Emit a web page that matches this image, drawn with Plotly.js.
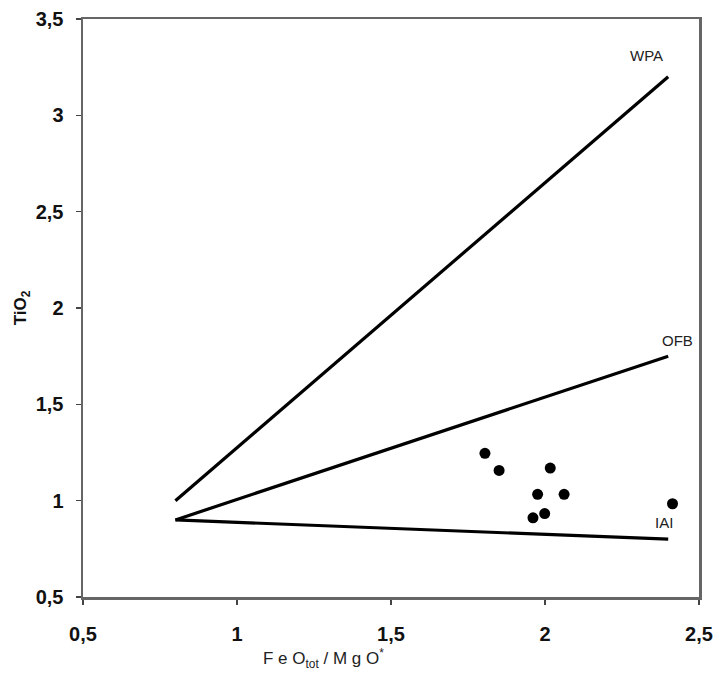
<!DOCTYPE html>
<html>
<head>
<meta charset="utf-8">
<script src="https://cdn.plot.ly/plotly-3.0.1.min.js"></script>
<style>html,body{margin:0;padding:0;background:#fff;}#chart{width:718px;height:679px;}</style>
</head>
<body>
<div id="chart"></div>
<script>
// Sample points: FeOtot/MgO* vs TiO2
const sampleX = [1.805, 1.851, 2.017, 1.976, 2.062, 1.999, 1.961, 2.414];
const sampleY = [1.246, 1.157, 1.169, 1.033, 1.033, 0.933, 0.911, 0.984];

// Discrimination lines
const lineNames = ["WPA", "OFB", "IAI"];
const lineX = [[0.8, 2.4], [0.8, 2.4], [0.8, 2.4]];
const lineY = [[1.0, 3.2], [0.9, 1.75], [0.9, 0.8]];

// Label positions
const labelX = [2.33, 2.43, 2.385];
const labelY = [3.31, 1.83, 0.885];

const xTicks = [0.5, 1, 1.5, 2, 2.5];
const xTickText = ['0,5', '1', '1,5', '2', '2,5'];
const yTicks = [0.5, 1, 1.5, 2, 2.5, 3, 3.5];
const yTickText = ['0,5', '1', '1,5', '2', '2,5', '3', '3,5'];

const FONT = 'Liberation Sans, Arial, sans-serif';

const traces = lineNames.map((n, i) => ({
  x: lineX[i], y: lineY[i], mode: 'lines', name: n,
  line: {color: '#000', width: 3.2}, hoverinfo: 'skip'
}));
traces.push({
  x: sampleX, y: sampleY, mode: 'markers', name: 'samples',
  marker: {color: '#000', size: 11}
});

const annotations = lineNames.map((n, i) => ({
  x: labelX[i], y: labelY[i], text: n, showarrow: false,
  font: {family: FONT, size: 15, color: '#222'}
}));
// x-axis title (off-centre in the reference)
annotations.push({
  xref: 'paper', yref: 'paper', x: 0.39, y: -0.107, yanchor: 'middle',
  text: 'F\u00a0e\u00a0O<sub>tot</sub>\u00a0/\u00a0M\u00a0g\u00a0O<sup>*</sup>', showarrow: false,
  font: {family: FONT, size: 17, color: '#222'}
});

const axisCommon = {
  showgrid: false, zeroline: false, showline: true, linecolor: '#666', linewidth: 2.5,
  mirror: true, ticks: 'outside', ticklen: 5, tickcolor: '#444', tickwidth: 1.5,
  tickfont: {family: FONT, size: 20, color: '#111', weight: 'bold'}
};

const layout = {
  width: 718, height: 679,
  margin: {l: 83, r: 19, t: 19, b: 82},
  separators: ', ',
  showlegend: false,
  paper_bgcolor: '#fff', plot_bgcolor: '#fff',
  xaxis: Object.assign({}, axisCommon, {
    range: [0.5, 2.5], tickvals: xTicks, ticktext: xTickText, ticklabelstandoff: 12
  }),
  yaxis: Object.assign({}, axisCommon, {
    range: [0.5, 3.5], tickvals: yTicks, ticktext: yTickText, ticklabelstandoff: 8,
    title: {text: '<b>TiO<sub>2</sub></b>', standoff: 5,
      font: {family: FONT, size: 17, color: '#111'}}
  }),
  annotations: annotations
};

Plotly.newPlot('chart', traces, layout, {displayModeBar: false, staticPlot: true});
</script>
</body>
</html>
